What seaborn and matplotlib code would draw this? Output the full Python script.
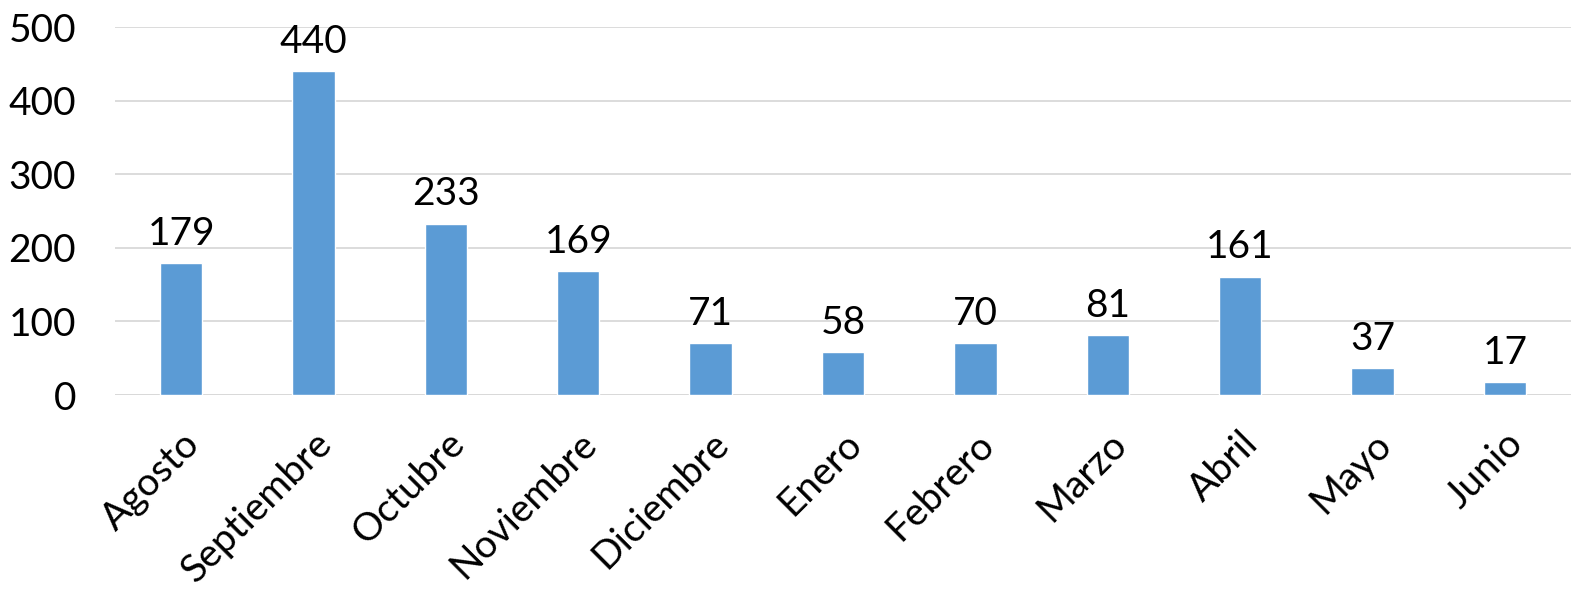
import matplotlib
matplotlib.use("Agg")
import matplotlib.pyplot as plt
import seaborn as sns
import pandas as pd

months = ["Agosto", "Septiembre", "Octubre", "Noviembre", "Diciembre", "Enero",
          "Febrero", "Marzo", "Abril", "Mayo", "Junio"]
counts = [179, 440, 233, 169, 71, 58, 70, 81, 161, 37, 17]
yticks = [0, 100, 200, 300, 400, 500]

df = pd.DataFrame({"mes": months, "n": counts})

sns.set_style("white")
plt.rcParams["font.family"] = ["Lato", "DejaVu Sans"]

fig = plt.figure(figsize=(15.89, 6.02), dpi=100)
ax = fig.add_axes([115 / 1589, 1 - 395 / 602, 1456 / 1589, 368 / 602])
sns.barplot(data=df, x="mes", y="n", color="#5B9BD5", width=0.32,
            saturation=1, ax=ax, zorder=3)
for i, v in enumerate(counts):
    ax.annotate(str(v), (i, v), xytext=(0, 8), textcoords="offset points",
                ha="center", va="bottom", fontsize=28, color="#000000")

ax.set_ylim(0, 500)
ax.set_yticks(yticks)
ax.yaxis.grid(True, color="#D9D9D9", linewidth=1.3, zorder=0)
ax.set_axisbelow(True)
for s in ax.spines.values():
    s.set_visible(False)
ax.axhline(0, color="#D9D9D9", linewidth=1.3, zorder=1)
ax.set_xlabel("")
ax.set_ylabel("")
ax.tick_params(axis="y", labelsize=28, length=0, pad=28, labelcolor="#000000")
ax.tick_params(axis="x", labelsize=28, length=0, pad=22, labelcolor="#000000")
plt.setp(ax.get_xticklabels(), rotation=45, ha="right", rotation_mode="anchor")
ax.set_xlim(-0.5, len(months) - 0.5)

fig.savefig("out.png", dpi=100)
